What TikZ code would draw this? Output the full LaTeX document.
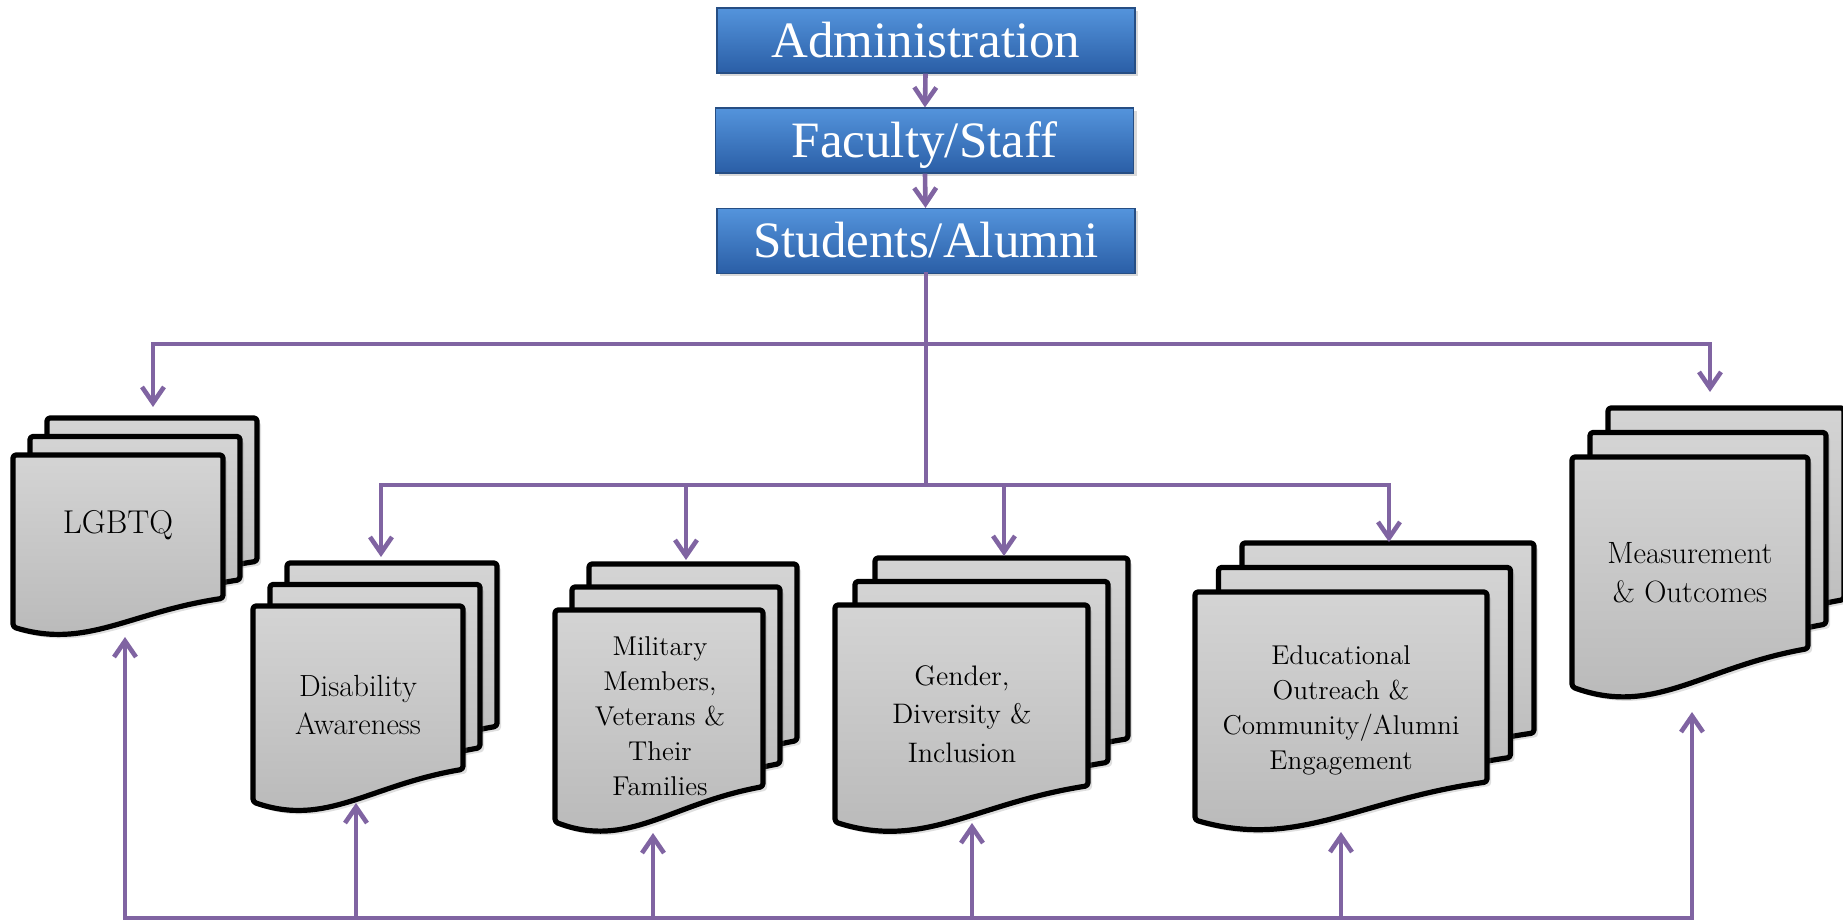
\documentclass[tikz,border=0pt]{standalone}
\usepackage{fontspec}
\newfontfamily\boxfont{Liberation Serif}
\usetikzlibrary{arrows.meta,shadows}

\definecolor{flowpurple}{RGB}{128,100,162}
\definecolor{boxtop}{RGB}{84,148,220}
\definecolor{boxbot}{RGB}{42,94,166}
\definecolor{boxline}{RGB}{38,78,132}
\definecolor{pagetop}{RGB}{212,212,212}
\definecolor{pagebot}{RGB}{184,184,184}

\tikzset{
  tierbox/.style={draw=boxline, line width=0.6pt, top color=boxtop, bottom color=boxbot,
    minimum width=209pt, minimum height=32.5pt, inner sep=0pt, text=white,
    font=\boxfont\fontsize{25.5}{30}\selectfont, text height=16.9pt, text depth=0pt,
    drop shadow={opacity=0.3, shadow xshift=1.5pt, shadow yshift=-1.5pt}},
  docpage/.style={draw=black, line width=2.6pt, rounded corners=1.5pt, line join=round,
    top color=pagetop, bottom color=pagebot,
    drop shadow={opacity=0.25, shadow xshift=2pt, shadow yshift=-2pt}},
  doctext/.style 2 args={align=center, inner sep=0pt, font=\fontsize{#1}{#2}\selectfont},
  rail/.style={draw=flowpurple, line width=2.3pt, line cap=rect},
  feed/.style={draw=flowpurple, line width=2.3pt, -{Straight Barb[length=8pt,width=11pt]}},
}

% one sheet: x, y (top left), width, height
\newcommand{\onepage}[4]{%
  \path[docpage] ({#1},{#2}) -- ({#1+#3},{#2}) -- ({#1+#3},{#2+0.833*#4})
    .. controls ({#1+0.55*#3},{#2+0.915*#4}) and ({#1+0.35*#3},{#2+1.13*#4}) .. ({#1},{#2+#4})
    -- cycle;}
% three sheets: x, y, width, height, dx, dy
\newcommand{\docstack}[6]{%
  \onepage{#1+2*#5}{#2-2*#6}{#3}{#4}
  \onepage{#1+#5}{#2-#6}{#3}{#4}
  \onepage{#1}{#2}{#3}{#4}}

\begin{document}
\begin{tikzpicture}[x=0.5pt,y=-0.5pt]
\useasboundingbox (0,0) rectangle (1843,924);

\node[tierbox] (admin) at (926,40.5) {Administration};
\node[tierbox] (faculty) at (924.5,140.5) {Faculty/Staff};
\node[tierbox] (students) at (926,241) {Students/Alumni};

\docstack{13}{455}{210}{172}{17}{18.5}
\docstack{253}{606}{210}{196}{17}{21.5}
\docstack{555}{610}{208}{212}{17}{23}
\docstack{835}{605}{253}{217}{20}{23.5}
\docstack{1195}{592}{292}{228}{23.5}{24.5}
\docstack{1572}{457}{236}{230}{18}{24.5}

\node[doctext={16.5}{20}] (lgbtq) at (118,525) {LGBTQ};
\node[doctext={15.3}{19}] (dis) at (358,705) {Disability\\Awareness};
\node[doctext={13.6}{17.5}] (mil) at (660,716) {Military\\Members,\\Veterans \&\\Their\\Families};
\node[doctext={14.1}{19.2}] (gen) at (962,714) {Gender,\\Diversity \&\\Inclusion};
\node[doctext={13.6}{17.5}] (edu) at (1341,710) {Educational\\Outreach \&\\Community/Alumni\\Engagement};
\node[doctext={15.4}{19.5}] (meas) at (1690,573) {Measurement\\\& Outcomes};

% arrow ends
\coordinate (upper) at (926,344);
\coordinate (lower) at (926,485);
\coordinate (base) at (926,918);
\coordinate (lgbtq-top) at (153,407);
\coordinate (meas-top) at (1710,392);
\coordinate (dis-top) at (381,557);
\coordinate (mil-top) at (686,560);
\coordinate (gen-top) at (1004,556);
\coordinate (edu-top) at (1389,542);
\coordinate (lgbtq-bot) at (125,637);
\coordinate (dis-bot) at (356,803);
\coordinate (mil-bot) at (653,833);
\coordinate (gen-bot) at (972,823);
\coordinate (edu-bot) at (1341,832);
\coordinate (meas-bot) at (1692,712);

\draw[feed] (admin) -- (faculty);
\draw[feed] (faculty) -- (students);
\draw[rail] (students) -- (lower);

\draw[feed] (upper) -| (lgbtq-top);
\draw[feed] (upper) -| (meas-top);
\draw[feed] (lower) -| (dis-top);
\draw[feed] (lower) -| (mil-top);
\draw[feed] (lower) -| (gen-top);
\draw[feed] (lower) -| (edu-top);

\draw[rail] (lgbtq-bot |- base) -- (meas-bot |- base);
\foreach \d in {lgbtq,dis,mil,gen,edu,meas}
  \draw[feed] (\d-bot |- base) -- (\d-bot);
\end{tikzpicture}
\end{document}
